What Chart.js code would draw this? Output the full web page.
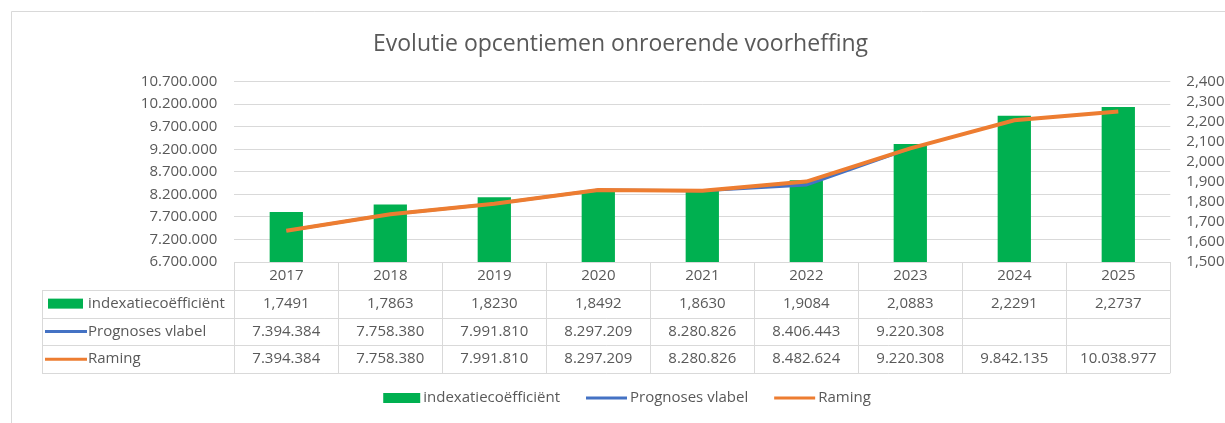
<!DOCTYPE html>
<html>
<head>
<meta charset="utf-8">
<script src="https://cdn.jsdelivr.net/npm/chart.js@4.4.1/dist/chart.umd.min.js"></script>
<style>
  html, body { margin: 0; padding: 0; background: #fff; }
  #wrap { width: 1225px; height: 423px; }
</style>
</head>
<body>
<div id="wrap"><canvas id="grafiek" width="1225" height="423"></canvas></div>
<script>
// Gegevens
const jaren = ['2017', '2018', '2019', '2020', '2021', '2022', '2023', '2024', '2025'];
const indexatie = [1.7491, 1.7863, 1.8230, 1.8492, 1.8630, 1.9084, 2.0883, 2.2291, 2.2737];
const prognoses = [7394384, 7758380, 7991810, 8297209, 8280826, 8406443, 9220308, null, null];
const raming = [7394384, 7758380, 7991810, 8297209, 8280826, 8482624, 9220308, 9842135, 10038977];

// Asbereiken
const linksAs = [6700000, 10700000, 500000];
const rechtsAs = [1.5, 2.4, 0.1];

const tekstKleur = '#595959';
const lijnKleur = '#d9d9d9';
const lettertype = 'Open Sans';

function duizendtal(v) {
    return String(Math.round(v)).replace(/\B(?=(\d{3})+(?!\d))/g, '.');
}
function komma(v, d) {
    return v.toFixed(d).replace('.', ',');
}

// Sleutel (kleurvak of lijn) tekenen
function tekenSleutel(ctx, ds, x, y, breedteVak, breedteLijn) {
    if (ds.type === 'bar') {
        ctx.fillStyle = ds.backgroundColor;
        ctx.fillRect(x, y - 5, breedteVak, 10);
        return breedteVak;
    }
    ctx.strokeStyle = ds.borderColor;
    ctx.lineWidth = 3;
    ctx.beginPath();
    ctx.moveTo(x, y);
    ctx.lineTo(x + breedteLijn, y);
    ctx.stroke();
    return breedteLijn;
}

// Kader en witte achtergrond
const kaderPlugin = {
    id: 'kader',
    beforeDraw(chart) {
        const ctx = chart.ctx;
        ctx.save();
        ctx.fillStyle = '#fff';
        ctx.fillRect(0, 0, chart.width, chart.height);
        ctx.strokeStyle = lijnKleur;
        ctx.lineWidth = 1;
        ctx.beginPath();
        ctx.moveTo(11.5, chart.height);
        ctx.lineTo(11.5, 11.5);
        ctx.lineTo(chart.width, 11.5);
        ctx.stroke();
        ctx.restore();
    }
};

// Gegevenstabel onder de grafiek
const tabelPlugin = {
    id: 'tabel',
    afterDraw(chart) {
        const ctx = chart.ctx;
        const x = chart.scales.x;
        const boven = chart.chartArea.bottom;
        const links = 42;
        const kolom = (x.right - x.left) / jaren.length;
        const rijH = (x.bottom - boven) / 4;
        ctx.save();
        ctx.strokeStyle = lijnKleur;
        ctx.lineWidth = 1;
        ctx.beginPath();
        for (let r = 0; r <= 4; r++) {
            const y = Math.round(boven + r * rijH) + 0.5;
            ctx.moveTo(r === 0 ? x.left : links, y);
            ctx.lineTo(x.right, y);
        }
        for (let i = 0; i <= jaren.length; i++) {
            const xx = Math.round(x.left + i * kolom) + 0.5;
            ctx.moveTo(xx, boven);
            ctx.lineTo(xx, x.bottom);
        }
        ctx.moveTo(links + 0.5, Math.round(boven + rijH));
        ctx.lineTo(links + 0.5, x.bottom);
        ctx.stroke();

        ctx.font = '15px "' + lettertype + '"';
        ctx.textBaseline = 'middle';
        ctx.fillStyle = tekstKleur;
        ctx.textAlign = 'center';
        jaren.forEach((j, i) => {
            ctx.fillText(j, x.getPixelForValue(i), boven + rijH / 2);
        });

        const volgorde = [0, 1, 2];
        volgorde.forEach((d, r) => {
            const ds = chart.data.datasets[d];
            const y = boven + rijH * (r + 1.5);
            const bx = ds.type === 'bar' ? links + 6 : links + 3;
            tekenSleutel(ctx, ds, bx, y, 35, 42);
            ctx.fillStyle = tekstKleur;
            ctx.textAlign = 'left';
            ctx.fillText(ds.label, links + 46, y);
            ctx.textAlign = 'center';
            ds.data.forEach((v, i) => {
                if (v === null) return;
                const t = ds.type === 'bar' ? komma(v, 4) : duizendtal(v);
                ctx.fillText(t, x.getPixelForValue(i), y);
            });
        });
        ctx.restore();
    }
};

// Legende onderaan
const legendePlugin = {
    id: 'legende',
    afterDraw(chart) {
        const ctx = chart.ctx;
        const y = 398;
        const midden = 627;
        ctx.save();
        ctx.font = '15px "' + lettertype + '"';
        ctx.textBaseline = 'middle';
        const items = chart.data.datasets.map(ds => ({
            ds: ds,
            sleutel: ds.type === 'bar' ? 37 : 41,
            tekst: ctx.measureText(ds.label).width
        }));
        const totaal = items.reduce((s, it) => s + it.sleutel + 3 + it.tekst, 0) + 26 * (items.length - 1);
        let xx = midden - totaal / 2;
        items.forEach(it => {
            tekenSleutel(ctx, it.ds, xx, y, it.sleutel, it.sleutel);
            xx += it.sleutel + 3;
            ctx.fillStyle = tekstKleur;
            ctx.textAlign = 'left';
            ctx.fillText(it.ds.label, xx, y);
            xx += it.tekst + 26;
        });
        ctx.restore();
    }
};

Chart.defaults.font.family = lettertype;
Chart.defaults.color = tekstKleur;

const ctx = document.getElementById('grafiek').getContext('2d');
new Chart(ctx, {
    data: {
        labels: jaren,
        datasets: [{
            type: 'bar',
            label: 'indexatiecoëfficiënt',
            data: indexatie,
            yAxisID: 'y2',
            backgroundColor: '#00B050',
            barPercentage: 0.32,
            categoryPercentage: 1,
            order: 2
        }, {
            type: 'line',
            label: 'Prognoses vlabel',
            data: prognoses,
            yAxisID: 'y',
            borderColor: '#4472C4',
            backgroundColor: '#4472C4',
            borderWidth: 3,
            pointRadius: 0,
            tension: 0,
            order: 1
        }, {
            type: 'line',
            label: 'Raming',
            data: raming,
            yAxisID: 'y',
            borderColor: '#ED7D31',
            backgroundColor: '#ED7D31',
            borderWidth: 4,
            pointRadius: 0,
            tension: 0,
            order: 0
        }]
    },
    options: {
        responsive: false,
        animation: false,
        layout: {
            padding: { left: 16, right: 0, top: 0, bottom: 50 }
        },
        plugins: {
            legend: { display: false },
            tooltip: { enabled: false },
            title: {
                display: true,
                text: 'Evolutie opcentiemen onroerende voorheffing',
                color: tekstKleur,
                font: { size: 23, weight: 'normal' },
                padding: { top: 31, bottom: 23 }
            }
        },
        scales: {
            x: {
                ticks: { display: false },
                grid: { display: false },
                border: { display: false },
                afterFit(as) { as.height = 111; }
            },
            y: {
                position: 'left',
                min: linksAs[0],
                max: linksAs[1],
                ticks: {
                    stepSize: linksAs[2],
                    autoSkip: false,
                    padding: 17,
                    font: { size: 15 },
                    callback: v => duizendtal(v)
                },
                grid: { color: lijnKleur, drawTicks: false },
                border: { display: false },
                afterFit(as) { as.width = 218.3; }
            },
            y2: {
                position: 'right',
                min: rechtsAs[0],
                max: rechtsAs[1],
                ticks: {
                    stepSize: rechtsAs[2],
                    autoSkip: false,
                    padding: 16,
                    font: { size: 15 },
                    callback: v => komma(v, 3)
                },
                grid: { drawOnChartArea: false, drawTicks: false },
                border: { display: false },
                afterFit(as) { as.width = 54.7; }
            }
        }
    },
    plugins: [kaderPlugin, tabelPlugin, legendePlugin]
});
</script>
</body>
</html>
